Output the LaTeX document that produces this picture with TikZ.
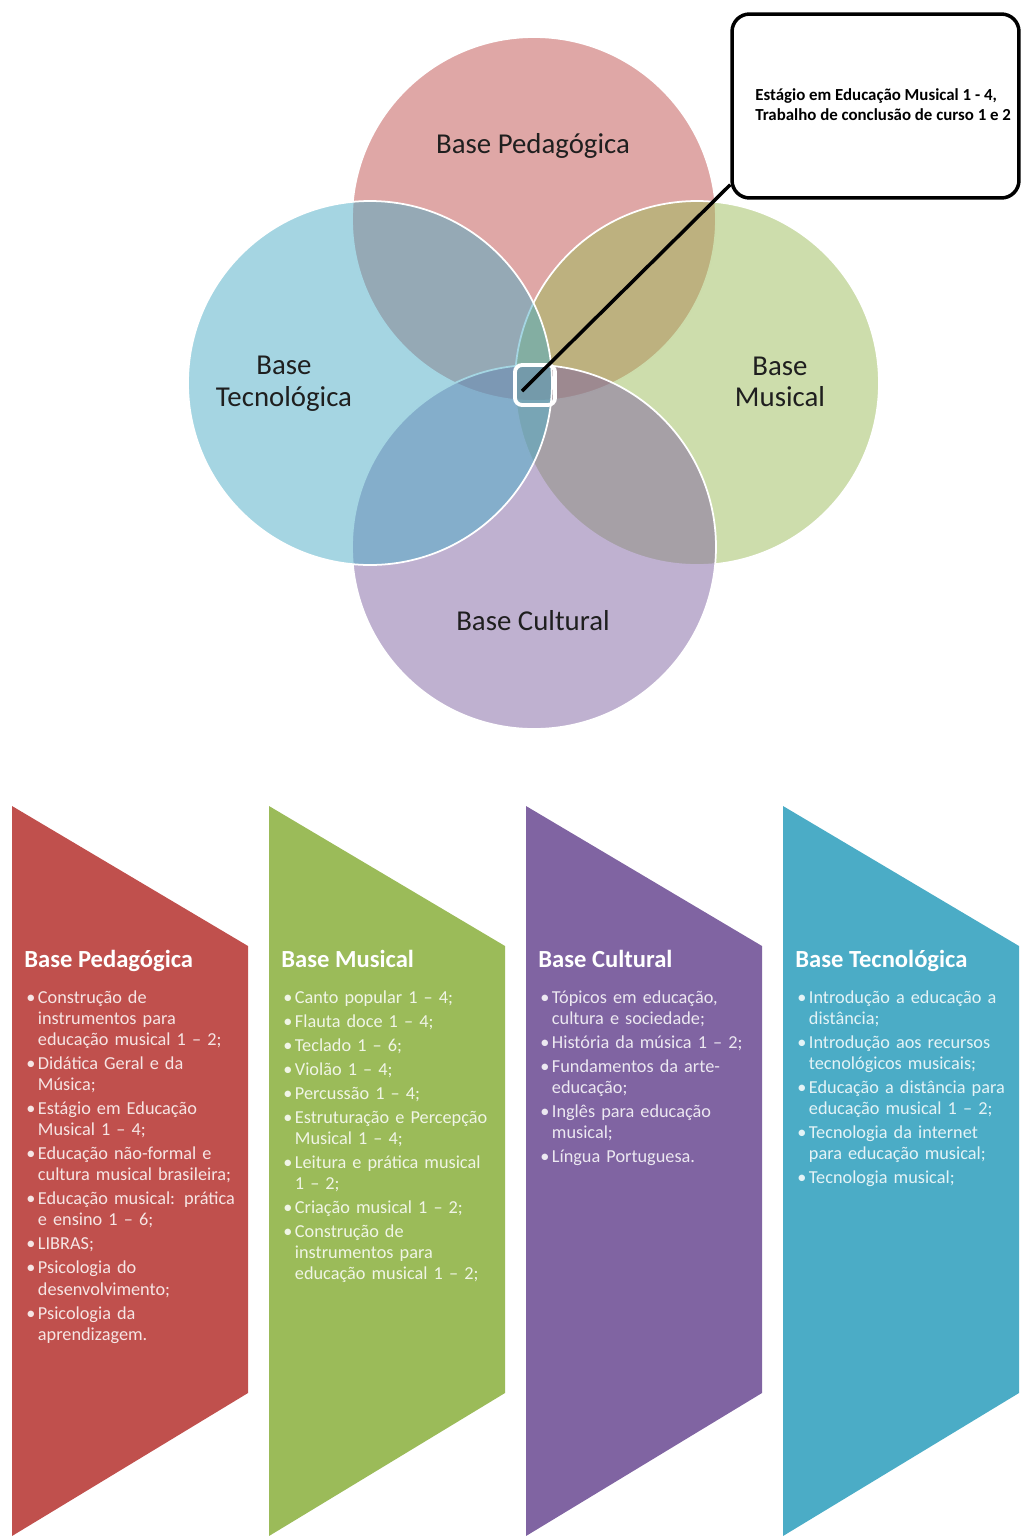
\documentclass[tikz,border=0pt]{standalone}
\usepackage{fontspec}
\setmainfont{Carlito}
\usetikzlibrary{positioning}

\definecolor{pedred}{HTML}{C0504D}
\definecolor{musgreen}{HTML}{9BBB59}
\definecolor{culpurple}{HTML}{8064A2}
\definecolor{tecblue}{HTML}{4BACC6}

\tikzset{
  venn/.style={fill opacity=0.5, draw=white, line width=1pt},
  venntext/.style={font=\fontsize{16.4}{18}\selectfont, text=black!88, align=center, inner sep=0pt},
  colhead/.style={anchor=base west, inner sep=0pt, text=white, font=\bfseries\fontsize{14}{16}\selectfont},
  colitems/.style={anchor=base west, inner sep=0pt, text width=4.6cm, align=left, font=\fontsize{10.4}{12}\selectfont},
}
\newcommand{\itm}[1]{\noindent\hangindent=6.6pt\hangafter=1\makebox[6.6pt][l]{\textbullet}#1\par\vspace{1.7pt}}

\begin{document}
\begin{tikzpicture}[x=0.02cm, y=-0.02cm]
\useasboundingbox (0,0) rectangle (1023,1536);

% Diagrama das quatro bases
\draw[venn, fill=pedred] (534,219) circle (182);
\draw[venn, fill=musgreen] (697,383) circle (182);
\draw[venn, fill=culpurple] (534,547) circle (182);
\draw[venn, fill=tecblue] (370,383) circle (182);

\node[venntext, anchor=base] (ped) at (533,153) {Base Pedagógica};
\node[venntext] (tec) at (284,384) {Base\\Tecnológica};
\node[venntext] (mus) at (780,382) {Base\\Musical};
\node[venntext, anchor=base] (cul) at (533,630) {Base Cultural};

% Centro e balão
\node[draw=white, line width=2.2pt, rounded corners=4pt, minimum size=0.8cm, inner sep=0pt] (core) at (535,385) {};
\coordinate (pin) at (522,391);
\node[draw=black, line width=2pt, rounded corners=10pt, minimum width=5.74cm, minimum height=3.68cm, inner sep=0pt] (callout) at (875.5,106) {};
\node[anchor=west, align=left, inner sep=0pt, font=\bfseries\fontsize{9.6}{11.4}\selectfont] (calltext) at (755,105) {Estágio em Educação Musical 1 - 4,\\Trabalho de conclusão de curso 1 e 2};
\draw[line width=2pt] (pin) -- ([yshift=0.3cm]callout.south west);

% Colunas
\foreach \L/\col in {12/pedred,269/musgreen,526/culpurple,783/tecblue}
  \fill[\col] (\L,806) -- (\L+236,946) -- (\L+236,1393) -- (\L,1536) -- cycle;

\node[colhead] (pedhead) at (24,967) {Base Pedagógica};
\node[colitems, text=white!85!pedred] (peditems) at (26,1003) {%
  \itm{Construção de\newline instrumentos para\newline educação musical 1 – 2;}
  \itm{Didática Geral e da\newline Música;}
  \itm{Estágio em Educação\newline Musical 1 – 4;}
  \itm{Educação não-formal e\newline cultura musical brasileira;}
  \itm{Educação musical: prática\newline e ensino 1 – 6;}
  \itm{LIBRAS;}
  \itm{Psicologia do\newline desenvolvimento;}
  \itm{Psicologia da\newline aprendizagem.}};

\node[colhead] (mushead) at (281,967) {Base Musical};
\node[colitems, text=white!85!musgreen] (musitems) at (283,1003) {%
  \itm{Canto popular 1 – 4;}
  \itm{Flauta doce 1 – 4;}
  \itm{Teclado 1 – 6;}
  \itm{Violão 1 – 4;}
  \itm{Percussão 1 – 4;}
  \itm{Estruturação e Percepção\newline Musical 1 – 4;}
  \itm{Leitura e prática musical\newline 1 – 2;}
  \itm{Criação musical 1 – 2;}
  \itm{Construção de\newline instrumentos para\newline educação musical 1 – 2;}};

\node[colhead] (culhead) at (538,967) {Base Cultural};
\node[colitems, text=white!85!culpurple] (culitems) at (540,1003) {%
  \itm{Tópicos em educação,\newline cultura e sociedade;}
  \itm{História da música 1 – 2;}
  \itm{Fundamentos da arte-\newline educação;}
  \itm{Inglês para educação\newline musical;}
  \itm{Língua Portuguesa.}};

\node[colhead] (techead) at (795,967) {Base Tecnológica};
\node[colitems, text=white!85!tecblue] (tecitems) at (797,1003) {%
  \itm{Introdução a educação a\newline distância;}
  \itm{Introdução aos recursos\newline tecnológicos musicais;}
  \itm{Educação a distância para\newline educação musical 1 – 2;}
  \itm{Tecnologia da internet\newline para educação musical;}
  \itm{Tecnologia musical;}};

\end{tikzpicture}
\end{document}
